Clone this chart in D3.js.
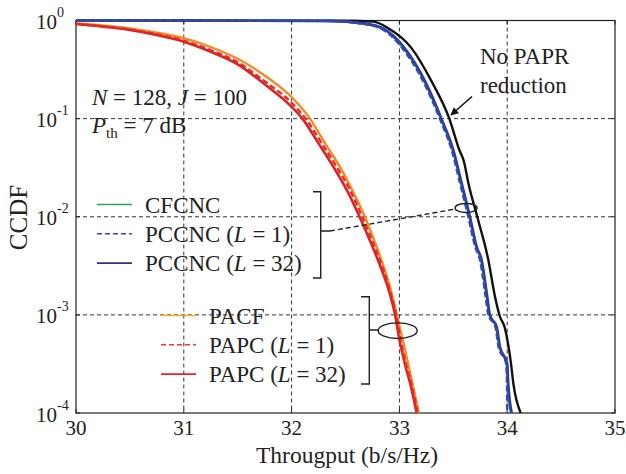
<!DOCTYPE html>
<html>
<head>
<meta charset="utf-8">
<script src="https://cdn.jsdelivr.net/npm/d3@7"></script>
<style>
  html, body { margin: 0; padding: 0; background: #fff; }
  svg { display: block; }
  svg text { font-family: 'Liberation Serif', 'DejaVu Serif', 'Times New Roman', Times, serif; }
</style>
</head>
<body>
<div id="chart"></div>
<script>
// Throughput (b/s/Hz) vs CCDF
const papc32 = [[30.0, 0.92], [30.25, 0.865], [30.5, 0.80], [30.75, 0.71], [31.0, 0.608], [31.25, 0.48],
  [31.5, 0.357], [31.75, 0.224], [32.0, 0.132], [32.1, 0.1], [32.25, 0.056], [32.39, 0.032],
  [32.52, 0.018], [32.63, 0.01], [32.73, 0.0056], [32.82, 0.0032], [32.90, 0.0018], [32.96, 0.001],
  [33.0, 0.00056], [33.05, 0.00032], [33.11, 0.00018], [33.16, 0.0001]];
const papc1 = [[30.0, 0.925], [30.25, 0.87], [30.5, 0.81], [30.75, 0.725], [31.0, 0.625], [31.25, 0.50],
  [31.5, 0.375], [31.75, 0.24], [32.0, 0.145], [32.13, 0.1], [32.28, 0.056], [32.42, 0.032],
  [32.55, 0.018], [32.655, 0.01], [32.75, 0.0056], [32.835, 0.0032], [32.91, 0.0018], [32.97, 0.001],
  [33.01, 0.00056], [33.06, 0.00032], [33.12, 0.00018], [33.17, 0.0001]];
const pacf = [[30.0, 0.933], [30.25, 0.89], [30.5, 0.83], [30.75, 0.75], [31.0, 0.66], [31.25, 0.537],
  [31.5, 0.407], [31.75, 0.275], [32.0, 0.166], [32.17, 0.1], [32.31, 0.056], [32.45, 0.032],
  [32.57, 0.018], [32.68, 0.01], [32.77, 0.0056], [32.85, 0.0032], [32.92, 0.0018], [32.975, 0.001],
  [33.03, 0.00056], [33.08, 0.00032], [33.13, 0.00018], [33.18, 0.0001]];
const pccnc32 = [[30.0, 1], [32.36, 0.99], [32.665, 0.935], [32.85, 0.83], [33.05, 0.52], [33.24, 0.238],
  [33.39, 0.1], [33.5, 0.048], [33.578, 0.0219], [33.655, 0.00993], [33.717, 0.00495], [33.763, 0.00362],
  [33.815, 0.00153], [33.84, 0.000995], [33.903, 0.000757], [33.933, 0.000473], [34.0, 0.00032],
  [34.01, 0.0002], [34.042, 0.0001]];
const pccnc1 = [[30.0, 1], [32.35, 0.99], [32.65, 0.93], [32.835, 0.82], [33.035, 0.51], [33.225, 0.235],
  [33.375, 0.1], [33.485, 0.048], [33.563, 0.0219], [33.64, 0.00993], [33.703, 0.00495], [33.748, 0.00362],
  [33.80, 0.00153], [33.826, 0.000995], [33.89, 0.000757], [33.92, 0.000473], [33.99, 0.00032],
  [33.998, 0.0002], [34.0, 0.0001]];
const cfcnc = [[30.0, 1], [32.36, 0.99], [32.66, 0.933], [32.845, 0.825], [33.045, 0.515], [33.235, 0.237],
  [33.385, 0.1], [33.495, 0.048], [33.573, 0.0219], [33.65, 0.00993], [33.712, 0.00495], [33.758, 0.00362],
  [33.81, 0.00153], [33.835, 0.000995], [33.898, 0.000757], [33.928, 0.000473], [33.996, 0.00032],
  [34.005, 0.0002], [34.035, 0.0001]];
const noPapr = [[30.0, 1], [32.5, 0.995], [32.758, 0.973], [32.897, 0.832], [33.114, 0.52], [33.30, 0.238],
  [33.463, 0.1], [33.556, 0.0479], [33.599, 0.0364], [33.64, 0.0219], [33.723, 0.00993], [33.825, 0.00362],
  [33.887, 0.00153], [33.933, 0.000957], [33.975, 0.000757], [34.035, 0.00032], [34.057, 0.0002],
  [34.125, 0.0001]];

const xTicks = [30, 31, 32, 33, 34, 35];
const yExps = [0, -1, -2, -3, -4];

const W = 626, H = 474;
const x = d3.scaleLinear().domain([30, 35]).range([76, 615]);
const y = d3.scaleLog().domain([1e-4, 1]).range([413, 20.5]);

const svg = d3.select('#chart').append('svg').attr('width', W).attr('height', H);

// grid
const grid = svg.append('g').attr('stroke', '#333').attr('stroke-width', 1).attr('stroke-dasharray', '4,3');
xTicks.slice(1, -1).forEach(t => {
  grid.append('line').attr('x1', x(t)).attr('x2', x(t)).attr('y1', y(1)).attr('y2', y(1e-4));
});
yExps.slice(1, -1).forEach(e => {
  grid.append('line').attr('x1', x(30)).attr('x2', x(35)).attr('y1', y(Math.pow(10, e))).attr('y2', y(Math.pow(10, e)));
});

// frame + inner ticks
svg.append('rect')
  .attr('x', x(30)).attr('y', y(1)).attr('width', x(35) - x(30)).attr('height', y(1e-4) - y(1))
  .attr('fill', 'none').attr('stroke', '#222').attr('stroke-width', 1.2);
const ticks = svg.append('g').attr('stroke', '#222').attr('stroke-width', 1);
xTicks.forEach(t => {
  ticks.append('line').attr('x1', x(t)).attr('x2', x(t)).attr('y1', y(1e-4)).attr('y2', y(1e-4) - 4);
  ticks.append('line').attr('x1', x(t)).attr('x2', x(t)).attr('y1', y(1)).attr('y2', y(1) + 4);
});
yExps.forEach(e => {
  const yy = y(Math.pow(10, e));
  ticks.append('line').attr('x1', x(30)).attr('x2', x(30) + 4).attr('y1', yy).attr('y2', yy);
  ticks.append('line').attr('x1', x(35)).attr('x2', x(35) - 4).attr('y1', yy).attr('y2', yy);
});

// curves
const line = d3.line().x(d => x(d[0])).y(d => y(d[1])).curve(d3.curveMonotoneX);
const plot = svg.append('g').attr('fill', 'none');
const series = [
  { data: noPapr, color: '#111111', dash: null, w: 2.4 },
  { data: cfcnc, color: '#2e8b57', dash: null, w: 2.4 },
  { data: pccnc32, color: '#2b3f9e', dash: null, w: 2.6 },
  { data: pccnc1, color: '#3348b0', dash: '6,3', w: 2.4 },
  { data: pacf, color: '#f58a22', dash: null, w: 2.4 },
  { data: papc32, color: '#dd2222', dash: null, w: 2.6 },
  { data: papc1, color: '#e62a2a', dash: '6,3', w: 2.4 }
];
series.forEach(s => {
  plot.append('path').attr('d', line(s.data))
    .attr('stroke', s.color).attr('stroke-width', s.w)
    .attr('stroke-dasharray', s.dash);
});

// tick labels
const tl = svg.append('g').attr('fill', '#222');
xTicks.forEach(t => {
  tl.append('text').attr('x', x(t)).attr('y', 435).attr('text-anchor', 'middle')
    .attr('font-size', 21).text(t);
});
yExps.forEach(e => {
  const yy = y(Math.pow(10, e));
  const t = tl.append('text').attr('x', 36).attr('y', yy + 8.5).attr('font-size', 21);
  t.append('tspan').text('10');
  t.append('tspan').attr('dy', -12).attr('font-size', 14).text(e === 0 ? '0' : '-' + (-e));
});

// axis titles
svg.append('text').attr('x', 347).attr('y', 463).attr('text-anchor', 'middle')
  .attr('font-size', 23.5).attr('fill', '#222').text('Througput (b/s/Hz)');
svg.append('text').attr('transform', 'translate(27,217.5) rotate(-90)').attr('text-anchor', 'middle')
  .attr('font-size', 25).attr('fill', '#222').text('CCDF');

// parameter text
const ann = svg.append('g').attr('fill', '#222').attr('font-size', 23);
const t1 = ann.append('text').attr('x', 92).attr('y', 105);
t1.append('tspan').attr('font-style', 'italic').text('N');
t1.append('tspan').text(' = 128, ');
t1.append('tspan').attr('font-style', 'italic').text('J');
t1.append('tspan').text(' = 100');
const t2 = ann.append('text').attr('x', 92).attr('y', 133);
t2.append('tspan').attr('font-style', 'italic').text('P');
t2.append('tspan').attr('dy', 5).attr('font-size', 15).text('th');
t2.append('tspan').attr('dy', -5).text(' = 7 dB');

ann.append('text').attr('x', 480).attr('y', 64).text('No PAPR');
ann.append('text').attr('x', 480).attr('y', 93).text('reduction');

svg.append('defs').append('marker').attr('id', 'ah').attr('viewBox', '0 0 10 10')
  .attr('refX', 9).attr('refY', 5).attr('markerWidth', 10).attr('markerHeight', 8)
  .attr('markerUnits', 'userSpaceOnUse').attr('orient', 'auto')
  .append('path').attr('d', 'M0,0L10,5L0,10z').attr('fill', '#111');
svg.append('line').attr('x1', 472).attr('y1', 96.5).attr('x2', 451).attr('y2', 115)
  .attr('stroke', '#111').attr('stroke-width', 1.6).attr('marker-end', 'url(#ah)');

// legends
const legendA = [
  { label: 'CFCNC', L: null, color: '#3a9a68', dash: null },
  { label: 'PCCNC (', L: '1', color: '#3348b0', dash: '5,3' },
  { label: 'PCCNC (', L: '32', color: '#2a3582', dash: null }
];
const legendB = [
  { label: 'PACF', L: null, color: '#f0b030', dash: null },
  { label: 'PAPC (', L: '1', color: '#ff3030', dash: '5,3' },
  { label: 'PAPC (', L: '32', color: '#ee2222', dash: null }
];
function drawLegend(items, x0, y0, step) {
  const g = svg.append('g');
  items.forEach((d, i) => {
    const yy = y0 + i * step;
    g.append('line').attr('x1', x0).attr('x2', x0 + 35).attr('y1', yy).attr('y2', yy)
      .attr('stroke', d.color).attr('stroke-width', 1.6).attr('stroke-dasharray', d.dash);
    const t = g.append('text').attr('x', x0 + 48).attr('y', yy + 8).attr('font-size', 23).attr('fill', '#222');
    t.append('tspan').text(d.label);
    if (d.L) {
      t.append('tspan').attr('font-style', 'italic').text('L');
      t.append('tspan').text(' = ' + d.L + ')');
    }
  });
}
drawLegend(legendA, 97, 204.5, 29.3);
drawLegend(legendB, 161, 315.5, 29.3);

// brackets and ellipses
const br = svg.append('g').attr('fill', 'none').attr('stroke', '#222').attr('stroke-width', 1.4);
br.append('path').attr('d', 'M313,191.7H320.7V278H313M320.7,231H330');
br.append('path').attr('d', 'M361,296.7H369.3V384H361M369.3,330H378');
br.append('line').attr('x1', 330).attr('y1', 231).attr('x2', x(33.618) - 10).attr('y2', y(0.0123) + 1)
  .attr('stroke-dasharray', '5,3');
br.append('ellipse').attr('cx', x(33.618)).attr('cy', y(0.0123)).attr('rx', 11).attr('ry', 4.5);
br.append('ellipse').attr('cx', x(32.984)).attr('cy', y(0.00069)).attr('rx', 19.5).attr('ry', 7.8);
</script>
</body>
</html>
